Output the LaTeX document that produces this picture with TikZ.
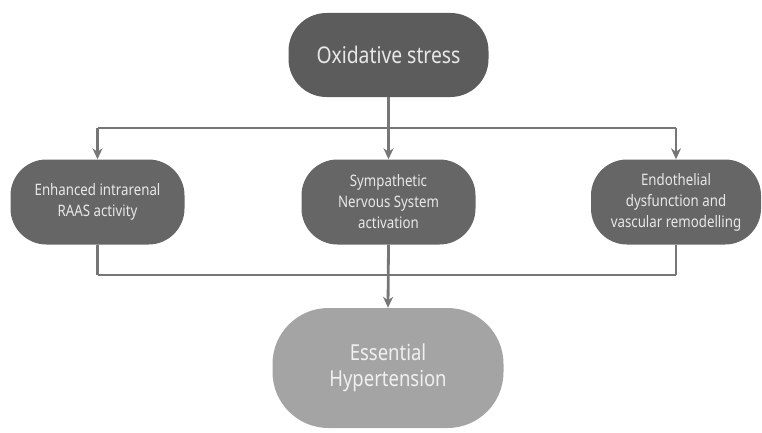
\documentclass[tikz,border=0pt]{standalone}
\usepackage{fontspec}
\setmainfont[FakeStretch=0.84]{Noto Sans}
\usetikzlibrary{arrows.meta}
\definecolor{boxdark}{HTML}{5C5C5C}
\definecolor{boxmid}{HTML}{666666}
\definecolor{boxlight}{HTML}{A4A4A4}
\definecolor{wire}{HTML}{767676}
\definecolor{label}{HTML}{E8E8E8}
\tikzset{
  pill/.style={draw=none, rounded corners=36pt, align=center, text=label,
    inner sep=0pt},
  causebox/.style={pill, fill=boxmid, minimum width=174pt, minimum height=85pt,
    font=\fontsize{15.8}{21}\selectfont},
  wireline/.style={draw=wire, line width=2.8pt},
  flow/.style={wireline, -{Stealth[length=11pt,width=10pt,inset=3.5pt]}}
}
\begin{document}
\begin{tikzpicture}[x=1pt,y=1pt]
  \useasboundingbox (0,0) rectangle (762,432);
  % source and outcome
  \node[pill, fill=boxdark, minimum width=200pt, minimum height=84pt,
        rounded corners=38pt, font=\fontsize{23}{28}\selectfont]
        (top) at (388.5,377) {Oxidative stress};
  \node[pill, fill=boxlight, minimum width=231pt, minimum height=120pt,
        rounded corners=56pt, text=white!94!black,
        font=\fontsize{22}{26}\selectfont]
        (out) at (388,64) {Essential\\Hypertension};
  % intermediate mechanisms
  \node[causebox] (left) at (97.5,230) {Enhanced intrarenal\\RAAS activity};
  \node[causebox] (mid) at (388.5,230) {Sympathetic\\Nervous System\\activation};
  \node[causebox, minimum width=170pt] (right) at (676,230)
        {Endothelial\\dysfunction and\\vascular remodelling};
  % distribution bus and collection bus
  \coordinate (busA) at (0,304);
  \coordinate (busB) at (0,157);
  \draw[wireline] (left.north |- busA) -- (right.north |- busA);
  \draw[wireline] (left.south |- busB) -- (right.south |- busB);
  \draw[flow] (top.south) -- (mid.north);
  \draw[flow] (left.north |- busA) -- (left.north);
  \draw[flow] (right.north |- busA) -- (right.north);
  \draw[wireline] (left.south) -- (left.south |- busB);
  \draw[wireline] (right.south) -- (right.south |- busB);
  \draw[flow] (mid.south) -- (out.north);
\end{tikzpicture}
\end{document}
